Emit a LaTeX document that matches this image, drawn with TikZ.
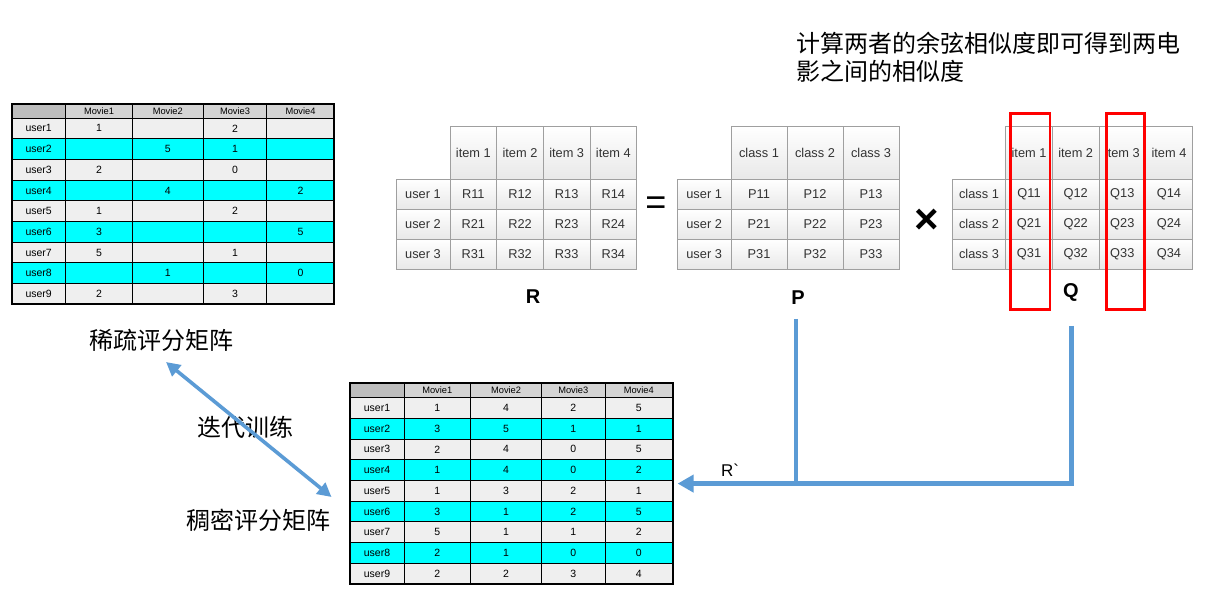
\documentclass[tikz,border=0pt]{standalone}
\usepackage{fontspec}
\setmainfont{Liberation Sans}
\newfontfamily\cjk{Noto Sans CJK SC}
\newfontfamily\rawsans{Liberation Sans}
\usetikzlibrary{arrows.meta}
\definecolor{cyanc}{HTML}{00FFFF}
\definecolor{lightc}{HTML}{EFEFEF}
\definecolor{headc}{HTML}{D4D4D4}
\definecolor{cornerc}{HTML}{BDBDBD}
\definecolor{flow}{HTML}{5B9BD5}
\definecolor{mtext}{HTML}{333333}
\tikzset{
 rcell/.style={draw=black, line width=0.9pt, inner sep=0pt, outer sep=0pt, font=\fontsize{10.5}{11}\selectfont},
 mcell/.style={draw=gray!75, line width=0.8pt, top color=white, bottom color=black!9, inner sep=0pt, outer sep=0pt, text=mtext, font=\fontsize{12.8}{14}\selectfont, minimum height=30pt},
 mhead/.style={mcell, minimum height=52.6pt},
 cjklabel/.style={font=\cjk\fontsize{24}{28}\selectfont, inner sep=0pt},
 flowline/.style={draw=flow, line width=4.7pt},
 biglabel/.style={font=\bfseries\fontsize{20}{22}\selectfont, inner sep=0pt},
 hilite/.style={draw=red, line width=2.7pt}
}
\newcommand\ratingtable[4]{%
 \begin{scope}[shift={(#2,#3)}]
  \node[rcell, fill=cornerc, minimum width=54pt, minimum height=14.3pt] (#1-h0) at (27,7.15) {};
  \foreach \xa/\xb [count=\c] in {54/120.6,120.6/191.6,191.6/255,255/322.6}{
   \pgfmathsetmacro\cw{\xb-\xa}
   \pgfmathsetmacro\xm{(\xa+\xb)/2}
   \node[rcell, fill=headc, minimum width=\cw pt, minimum height=14.3pt, font=\fontsize{9.3}{10}\selectfont] (#1-h\c) at (\xm,7.15) {Movie\c};
  }
  \foreach \row [count=\r] in {#4}{
   \ifodd\r \def\fc{lightc}\else\def\fc{cyanc}\fi
   \pgfmathsetmacro\yc{14.3+(\r-0.5)*20.7}
   \node[rcell, fill=\fc, minimum width=54pt, minimum height=20.7pt] (#1-l\r) at (27,\yc) {user\r};
   \foreach \v [count=\c] in \row {
    \pgfmathsetmacro\xa{{54,120.6,191.6,255}[\c-1]}
    \pgfmathsetmacro\xb{{120.6,191.6,255,322.6}[\c-1]}
    \pgfmathsetmacro\cw{\xb-\xa}
    \pgfmathsetmacro\xm{(\xa+\xb)/2}
    \node[rcell, fill=\fc, minimum width=\cw pt, minimum height=20.7pt] (#1-\r-\c) at (\xm,\yc) {\v};
   }
  }
  \node[draw=black, line width=1.8pt, inner sep=0pt, outer sep=0pt, minimum width=322.6pt, minimum height=200.6pt] (#1) at (161.3,100.3) {};
 \end{scope}
}
\newcommand\mtable[8]{%
 \foreach \c in {1,...,#5}{
   \node[mhead, minimum width=#4pt] (#1-h\c) at ({#2+#3+(\c-0.5)*#4},153) {#6 \c};
 }
 \foreach \r in {1,2,3}{
   \node[mcell, minimum width=#3pt] (#1-l\r) at ({#2+#3/2},{179.3+(\r-0.5)*30}) {#7 \r};
   \foreach \c in {1,...,#5}{
     \node[mcell, minimum width=#4pt] (#1-\r\c) at ({#2+#3+(\c-0.5)*#4},{179.3+(\r-0.5)*30}) {#8\r\c};
   }
 }
}
\begin{document}
\begin{tikzpicture}[x=1pt,y=-1pt]
\fill[white] (0,0) rectangle (1210,601);
\useasboundingbox (0,0) rectangle (1210,601);

% sparse table
\ratingtable{sparse}{11.7}{103.7}{{1,{},2,{}},{{},5,1,{}},{2,{},0,{}},{{},4,{},2},{1,{},2,{}},{3,{},{},5},{5,{},1,{}},{{},1,{},0},{2,{},3,{}}}
% dense table
\ratingtable{dense}{350}{383.3}{{1,4,2,5},{3,5,1,1},{2,4,0,5},{1,4,0,2},{1,3,2,1},{3,1,2,5},{5,1,1,2},{2,1,0,0},{2,2,3,4}}

% R, P, Q matrices
\mtable{R}{396}{54}{46.67}{4}{item}{user}{R}
\mtable{P}{677.3}{53.7}{56}{3}{class}{user}{P}
\mtable{Q}{952.3}{53.4}{46.65}{4}{item}{class}{Q}

\node[biglabel] (Rlbl) at (533,297) {R};
\node[biglabel] (Plbl) at (798,298) {P};
\node[biglabel] (Qlbl) at (1071,292) {Q};
\node[inner sep=0pt, font=\fontsize{36}{36}\selectfont] (eq) at (656,206) {=};
\node[inner sep=0pt, font=\bfseries\fontsize{42}{42}\selectfont] (times) at (926.5,221) {×};

% red highlight boxes
\draw[hilite] (1010.7,113.3) rectangle (1050,309.3);
\draw[hilite] (1106.7,113.3) rectangle (1144.3,309.3);

% top text
\node[cjklabel, anchor=base west] (top1) at (796,53) {计算两者的余弦相似度即可得到两电};
\node[cjklabel, anchor=base west] (top2) at (796,81) {影之间的相似度};

% labels
\node[cjklabel] (sparselbl) at (161.5,340) {稀疏评分矩阵};
\node[cjklabel] (iterlbl) at (245,427) {迭代训练};
\node[cjklabel] (denselbl) at (258,520) {稠密评分矩阵};

% double arrow
\coordinate (s1) at (166,362);
\coordinate (s2) at (331.5,497);
\draw[flowline, line width=3.6pt, {Triangle[length=14pt,width=14pt]}-{Triangle[length=14pt,width=14pt]}] (s1) -- (s2);

% flow from P and Q to dense
\coordinate (pdown) at (796,319);
\coordinate (qdown) at (1071.7,326);
\draw[flowline, -{Triangle[length=16pt,width=17pt]}, shorten >=5pt] (qdown) |- (dense.east);
\draw[flowline] (pdown) -- (pdown |- dense.east);
\node[inner sep=0pt, font=\rawsans\fontsize{17}{18}\selectfont] (rprime) at (730,470) {R`};
\end{tikzpicture}
\end{document}
